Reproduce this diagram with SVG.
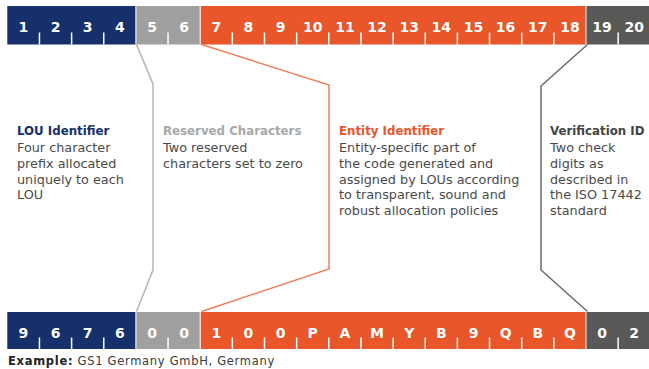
<svg xmlns="http://www.w3.org/2000/svg" width="649" height="369" viewBox="0 0 649 369">
<style>
.num{font-family:"DejaVu Sans",sans-serif;font-weight:bold;font-size:14px;fill:#fff;text-anchor:middle}
.tick{stroke:#fff;stroke-width:1.5}
.sep{stroke:#fff;stroke-width:1}
.title{font-family:"DejaVu Sans",sans-serif;font-weight:bold;font-size:11.8px}
.body{font-family:"DejaVu Sans",sans-serif;font-size:12.8px;fill:#4a4a4a}
.conn{fill:none;stroke-width:1.5;stroke-linejoin:miter}
</style>
<rect width="649" height="369" fill="#fff"/>
<g id="top-bar">
<rect x="7.3" y="6" width="128.6" height="38.5" fill="#15306b"/>
<rect x="135.9" y="6" width="64.3" height="38.5" fill="#a0a09e"/>
<rect x="200.2" y="6" width="385.8" height="38.5" fill="#e8562a"/>
<rect x="586" y="6" width="64.3" height="38.5" fill="#585856"/>
<g class="sep"><line x1="135.9" y1="6" x2="135.9" y2="44.5"/><line x1="200.2" y1="6" x2="200.2" y2="44.5"/><line x1="586" y1="6" x2="586" y2="44.5"/></g>
<g class="tick">
<line x1="39.45" y1="32.5" x2="39.45" y2="44.5"/><line x1="71.6" y1="32.5" x2="71.6" y2="44.5"/><line x1="103.75" y1="32.5" x2="103.75" y2="44.5"/>
<line x1="168.05" y1="32.5" x2="168.05" y2="44.5"/>
<line x1="232.35" y1="32.5" x2="232.35" y2="44.5"/><line x1="264.5" y1="32.5" x2="264.5" y2="44.5"/><line x1="296.65" y1="32.5" x2="296.65" y2="44.5"/><line x1="328.8" y1="32.5" x2="328.8" y2="44.5"/><line x1="360.95" y1="32.5" x2="360.95" y2="44.5"/><line x1="393.1" y1="32.5" x2="393.1" y2="44.5"/><line x1="425.25" y1="32.5" x2="425.25" y2="44.5"/><line x1="457.4" y1="32.5" x2="457.4" y2="44.5"/><line x1="489.55" y1="32.5" x2="489.55" y2="44.5"/><line x1="521.7" y1="32.5" x2="521.7" y2="44.5"/><line x1="553.85" y1="32.5" x2="553.85" y2="44.5"/>
<line x1="618.15" y1="32.5" x2="618.15" y2="44.5"/>
</g>
<g class="num">
<text x="23.4" y="32">1</text><text x="55.5" y="32">2</text><text x="87.7" y="32">3</text><text x="119.8" y="32">4</text>
<text x="152" y="32">5</text><text x="184.1" y="32">6</text>
<text x="216.3" y="32">7</text><text x="248.4" y="32">8</text><text x="280.6" y="32">9</text><text x="312.7" y="32">10</text><text x="344.9" y="32">11</text><text x="377" y="32">12</text><text x="409.2" y="32">13</text><text x="441.3" y="32">14</text><text x="473.5" y="32">15</text><text x="505.6" y="32">16</text><text x="537.8" y="32">17</text><text x="569.9" y="32">18</text>
<text x="602.1" y="32">19</text><text x="634.2" y="32">20</text>
</g>
</g>
<g id="bottom-bar">
<rect x="7.3" y="312" width="128.6" height="37" fill="#15306b"/>
<rect x="135.9" y="312" width="64.3" height="37" fill="#a0a09e"/>
<rect x="200.2" y="312" width="385.8" height="37" fill="#e8562a"/>
<rect x="586" y="312" width="64.3" height="37" fill="#585856"/>
<g class="sep"><line x1="135.9" y1="312" x2="135.9" y2="349"/><line x1="200.2" y1="312" x2="200.2" y2="349"/><line x1="586" y1="312" x2="586" y2="349"/></g>
<g class="tick">
<line x1="39.45" y1="337.5" x2="39.45" y2="349"/><line x1="71.6" y1="337.5" x2="71.6" y2="349"/><line x1="103.75" y1="337.5" x2="103.75" y2="349"/>
<line x1="168.05" y1="337.5" x2="168.05" y2="349"/>
<line x1="232.35" y1="337.5" x2="232.35" y2="349"/><line x1="264.5" y1="337.5" x2="264.5" y2="349"/><line x1="296.65" y1="337.5" x2="296.65" y2="349"/><line x1="328.8" y1="337.5" x2="328.8" y2="349"/><line x1="360.95" y1="337.5" x2="360.95" y2="349"/><line x1="393.1" y1="337.5" x2="393.1" y2="349"/><line x1="425.25" y1="337.5" x2="425.25" y2="349"/><line x1="457.4" y1="337.5" x2="457.4" y2="349"/><line x1="489.55" y1="337.5" x2="489.55" y2="349"/><line x1="521.7" y1="337.5" x2="521.7" y2="349"/><line x1="553.85" y1="337.5" x2="553.85" y2="349"/>
<line x1="618.15" y1="337.5" x2="618.15" y2="349"/>
</g>
<g class="num">
<text x="23.4" y="337.5">9</text><text x="55.5" y="337.5">6</text><text x="87.7" y="337.5">7</text><text x="119.8" y="337.5">6</text>
<text x="152" y="337.5">0</text><text x="184.1" y="337.5">0</text>
<text x="216.3" y="337.5">1</text><text x="248.4" y="337.5">0</text><text x="280.6" y="337.5">0</text><text x="312.7" y="337.5">P</text><text x="344.9" y="337.5">A</text><text x="377" y="337.5">M</text><text x="409.2" y="337.5">Y</text><text x="441.3" y="337.5">B</text><text x="473.5" y="337.5">9</text><text x="505.6" y="337.5">Q</text><text x="537.8" y="337.5">B</text><text x="569.9" y="337.5">Q</text>
<text x="602.1" y="337.5">0</text><text x="634.2" y="337.5">2</text>
</g>
</g>
<g id="connectors">
<polyline class="conn" stroke="#b5b5b5" points="136.5,44.5 153,84 153,270 136.5,311.5"/>
<polyline class="conn" stroke="#f08058" points="201.5,44.5 329,85 329,269 201.5,311.5"/>
<polyline class="conn" stroke="#6a6a6a" points="587.5,44.5 541,86 541,270 587.5,311.5"/>
</g>
<g id="lou-identifier">
<text class="title" x="17" y="135" fill="#15306b">LOU Identifier</text>
<text class="body" x="17" y="152"><tspan x="17">Four character</tspan><tspan x="17" dy="15.8">prefix allocated</tspan><tspan x="17" dy="15.8">uniquely to each</tspan><tspan x="17" dy="15.8">LOU</tspan></text>
</g>
<g id="reserved-characters">
<text class="title" x="163" y="135" fill="#a8a8a8">Reserved Characters</text>
<text class="body" x="163" y="152"><tspan x="163">Two reserved</tspan><tspan x="163" dy="15.8">characters set to zero</tspan></text>
</g>
<g id="entity-identifier">
<text class="title" x="339" y="135" fill="#e8562a">Entity Identifier</text>
<text class="body" x="339" y="152"><tspan x="339">Entity-specific part of</tspan><tspan x="339" dy="15.8">the code generated and</tspan><tspan x="339" dy="15.8">assigned by LOUs according</tspan><tspan x="339" dy="15.8">to transparent, sound and</tspan><tspan x="339" dy="15.8">robust allocation policies</tspan></text>
</g>
<g id="verification-id">
<text class="title" x="550" y="135" fill="#444">Verification ID</text>
<text class="body" x="550" y="152"><tspan x="550">Two check</tspan><tspan x="550" dy="15.8">digits as</tspan><tspan x="550" dy="15.8">described in</tspan><tspan x="550" dy="15.8">the ISO 17442</tspan><tspan x="550" dy="15.8">standard</tspan></text>
</g>
<g id="example">
<text x="8" y="365" font-family="DejaVu Sans, sans-serif" font-size="11.5" letter-spacing="0.7" fill="#3a3a3a"><tspan font-weight="bold" fill="#222">Example:</tspan> GS1 Germany GmbH, Germany</text>
</g>
</svg>
